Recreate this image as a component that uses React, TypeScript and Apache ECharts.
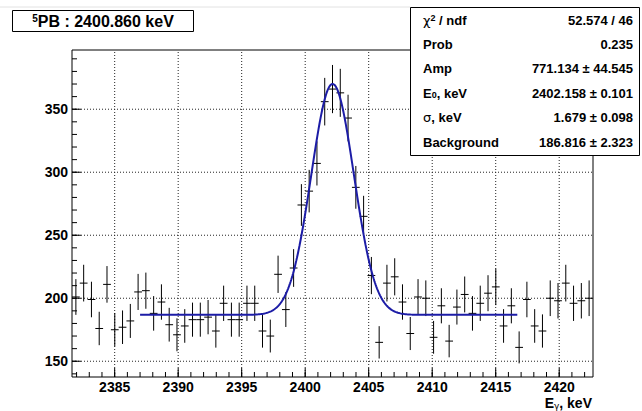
import React, { useEffect, useRef } from "react";
import * as echarts from "echarts";

// ---- axis ranges / ticks ----
const X_MIN = 2381.64;
const X_MAX = 2422.66;
const Y_MIN = 137.5;
const Y_MAX = 397;
const N_BINS = 67;
const X_TICKS = [2385, 2390, 2395, 2400, 2405, 2410, 2415, 2420];
const Y_TICKS = [150, 200, 250, 300, 350];
const X_MINOR_STEP = 1;
const Y_MINOR_STEP = 10;

// ---- histogram counts (one per bin) ----
const COUNTS = [
  201, 212, 199, 176, 211, 175, 177, 182, 205, 206,
  188, 197, 179, 171, 178, 183, 183, 185, 174, 196,
  183, 183, 196, 196, 174, 170, 219, 191, 224, 274,
  285, 307, 356, 366, 363, 343, 288, 265, 218, 165,
  212, 217, 197, 172, 201, 200, 169, 194, 166, 193,
  203, 188, 196, 204, 209, 178, 194, 161, 199, 178,
  174, 200, 198, 212, 196, 198, 200,
];

// ---- fit parameters (from the stats box) ----
const FIT_AMP = 771.134;
const FIT_E0 = 2402.158;
const FIT_SIGMA = 1.679;
const FIT_BG = 186.816;
const FIT_FROM = 2387.0;
const FIT_TO = 2416.7;

// ---- texts ----
const TITLE_SUP = "5";
const TITLE_MAIN = "PB : 2400.860 keV";
const STATS_LABELS = [
  "{g|χ}{sup|2}{b| / ndf}",
  "{b|Prob}",
  "{b|Amp}",
  "{b|E}{sub|0}{b|, keV}",
  "{g|σ}{b|, keV}",
  "{b|Background}",
];
const STATS_VALUES = [
  "52.574 / 46",
  "0.235",
  "771.134 ± 44.545",
  "2402.158 ± 0.101",
  "1.679 ± 0.098",
  "186.816 ± 2.323",
];

const FONT = "Liberation Sans";

export default function App() {
  const ref = useRef<HTMLDivElement>(null);

  useEffect(() => {
    if (!ref.current) return;
    const chart = echarts.init(ref.current, undefined, { renderer: "svg" });

    const binW = (X_MAX - X_MIN) / N_BINS;
    const points = COUNTS.map((c, i) => [X_MIN + (i + 0.5) * binW, c]);

    const fitData: number[][] = [];
    const norm = FIT_AMP / (Math.sqrt(2 * Math.PI) * FIT_SIGMA);
    for (let x = FIT_FROM; x <= FIT_TO + 1e-9; x += 0.05) {
      const z = (x - FIT_E0) / FIT_SIGMA;
      fitData.push([x, FIT_BG + norm * Math.exp(-0.5 * z * z)]);
    }

    const xMinor: number[] = [];
    for (let v = Math.ceil(X_MIN); v <= X_MAX; v += X_MINOR_STEP) xMinor.push(v);
    const yMinor: number[] = [];
    for (let v = Math.ceil(Y_MIN / Y_MINOR_STEP) * Y_MINOR_STEP; v <= Y_MAX; v += Y_MINOR_STEP) yMinor.push(v);

    const gridStyle = { stroke: "#222", lineWidth: 1, lineDash: [1, 2] };
    const tickStyle = { stroke: "#000", lineWidth: 1 };

    const vLine = (len: number | null, style: any) => (params: any, api: any) => {
      const x = api.value(0);
      const a = api.coord([x, Y_MIN]);
      const b = len == null ? api.coord([x, Y_MAX]) : [a[0], a[1] - len];
      return { type: "line", shape: { x1: a[0], y1: a[1], x2: b[0], y2: b[1] }, style };
    };
    const hLine = (len: number | null, style: any) => (params: any, api: any) => {
      const y = api.value(1);
      const a = api.coord([X_MIN, y]);
      const b = len == null ? api.coord([X_MAX, y]) : [a[0] + len, a[1]];
      return { type: "line", shape: { x1: a[0], y1: a[1], x2: b[0], y2: b[1] }, style };
    };

    const statsTexts: any[] = [];
    const rich = {
      b: { fontFamily: FONT, fontWeight: "bold", fontSize: 13, fill: "#000" },
      g: { fontFamily: "DejaVu Sans", fontSize: 13, fill: "#000" },
      sup: { fontFamily: FONT, fontWeight: "bold", fontSize: 9, fill: "#000", verticalAlign: "top" },
      sub: { fontFamily: FONT, fontWeight: "bold", fontSize: 9, fill: "#000", verticalAlign: "bottom" },
    };
    STATS_LABELS.forEach((lab, i) => {
      const y = 20 + i * 24.4;
      statsTexts.push({
        type: "text",
        z: 101,
        x: 423,
        y,
        style: { text: lab, rich, verticalAlign: "middle", align: "left", fill: "#000" },
      });
      statsTexts.push({
        type: "text",
        z: 101,
        x: 633,
        y,
        style: {
          text: STATS_VALUES[i],
          font: `bold 13px "${FONT}"`,
          fill: "#000",
          align: "right",
          verticalAlign: "middle",
        },
      });
    });

    const option: any = {
      animation: false,
      backgroundColor: "#fff",
      grid: {
        left: 72,
        right: 49,
        top: 50,
        bottom: 34,
        show: true,
        borderColor: "#000",
        borderWidth: 1,
        backgroundColor: "transparent",
      },
      xAxis: {
        type: "value",
        min: X_MIN,
        max: X_MAX,
        axisLine: { show: false },
        axisTick: { show: false },
        splitLine: { show: false },
        axisLabel: {
          customValues: X_TICKS,
          formatter: (v: number) => String(v),
          color: "#000",
          fontFamily: FONT,
          fontWeight: "bold",
          fontSize: 14,
          margin: 3,
        },
      },
      yAxis: {
        type: "value",
        min: Y_MIN,
        max: Y_MAX,
        axisLine: { show: false },
        axisTick: { show: false },
        splitLine: { show: false },
        axisLabel: {
          customValues: Y_TICKS,
          formatter: (v: number) => String(v),
          color: "#000",
          fontFamily: FONT,
          fontWeight: "bold",
          fontSize: 14,
          margin: 4,
        },
      },
      series: [
        { type: "custom", name: "xgrid", z: 1, silent: true, data: X_TICKS.map((v) => [v, Y_MIN]), encode: { x: 0, y: 1 }, renderItem: vLine(null, gridStyle) },
        { type: "custom", name: "ygrid", z: 1, silent: true, data: Y_TICKS.map((v) => [X_MIN, v]), encode: { x: 0, y: 1 }, renderItem: hLine(null, gridStyle) },
        { type: "custom", name: "xmajor", z: 3, silent: true, data: X_TICKS.map((v) => [v, Y_MIN]), encode: { x: 0, y: 1 }, renderItem: vLine(9, tickStyle) },
        { type: "custom", name: "xminor", z: 3, silent: true, data: xMinor.map((v) => [v, Y_MIN]), encode: { x: 0, y: 1 }, renderItem: vLine(5, tickStyle) },
        { type: "custom", name: "ymajor", z: 3, silent: true, data: Y_TICKS.map((v) => [X_MIN, v]), encode: { x: 0, y: 1 }, renderItem: hLine(9, tickStyle) },
        { type: "custom", name: "yminor", z: 3, silent: true, data: yMinor.map((v) => [X_MIN, v]), encode: { x: 0, y: 1 }, renderItem: hLine(5, tickStyle) },
        {
          type: "custom",
          name: "data",
          z: 4,
          silent: true,
          data: points,
          encode: { x: 0, y: 1 },
          renderItem: (params: any, api: any) => {
            const x = api.value(0);
            const v = api.value(1);
            const e = Math.sqrt(v);
            const top = api.coord([x, v + e]);
            const bot = api.coord([x, v - e]);
            const l = api.coord([x - binW / 2, v]);
            const r = api.coord([x + binW / 2, v]);
            const st = { stroke: "#000", lineWidth: 1 };
            return {
              type: "group",
              children: [
                { type: "line", shape: { x1: top[0], y1: top[1], x2: bot[0], y2: bot[1] }, style: st },
                { type: "line", shape: { x1: l[0], y1: l[1], x2: r[0], y2: r[1] }, style: st },
              ],
            };
          },
        },
        {
          type: "line",
          name: "fit",
          z: 5,
          silent: true,
          data: fitData,
          showSymbol: false,
          symbol: "none",
          lineStyle: { color: "#1c1ca6", width: 2 },
        },
      ],
      graphic: [
        { type: "line", z: 99, shape: { x1: 0, y1: 7, x2: 410, y2: 7 }, style: { stroke: "#e2e2e2", lineWidth: 1 } },
        { type: "rect", z: 100, shape: { x: 12.5, y: 10.5, width: 181, height: 21 }, style: { fill: "#fff", stroke: "#000", lineWidth: 1 } },
        {
          type: "text",
          z: 101,
          x: 103,
          y: 21.5,
          style: {
            text: `{s|${TITLE_SUP}}{t|${TITLE_MAIN}}`,
            align: "center",
            verticalAlign: "middle",
            rich: {
              s: { fontFamily: FONT, fontWeight: "bold", fontSize: 10, fill: "#000", verticalAlign: "top" },
              t: { fontFamily: FONT, fontWeight: "bold", fontSize: 16, fill: "#000" },
            },
          },
        },
        { type: "rect", z: 100, shape: { x: 410.5, y: 7.5, width: 229, height: 148 }, style: { fill: "#fff", stroke: "#000", lineWidth: 1 } },
        ...statsTexts,
        {
          type: "text",
          z: 101,
          x: 592,
          y: 403,
          style: {
            text: "{b|E}{sub|γ}{b|, keV}",
            align: "right",
            verticalAlign: "middle",
            rich: {
              b: { fontFamily: FONT, fontWeight: "bold", fontSize: 14, fill: "#000" },
              sub: { fontFamily: "DejaVu Sans", fontSize: 9, fill: "#000", verticalAlign: "bottom" },
            },
          },
        },
      ],
    };

    chart.setOption(option);
    return () => chart.dispose();
  }, []);

  return (
    <div
      ref={ref}
      style={{ position: "fixed", left: 0, top: 0, width: 642, height: 411, background: "#fff" }}
    />
  );
}
